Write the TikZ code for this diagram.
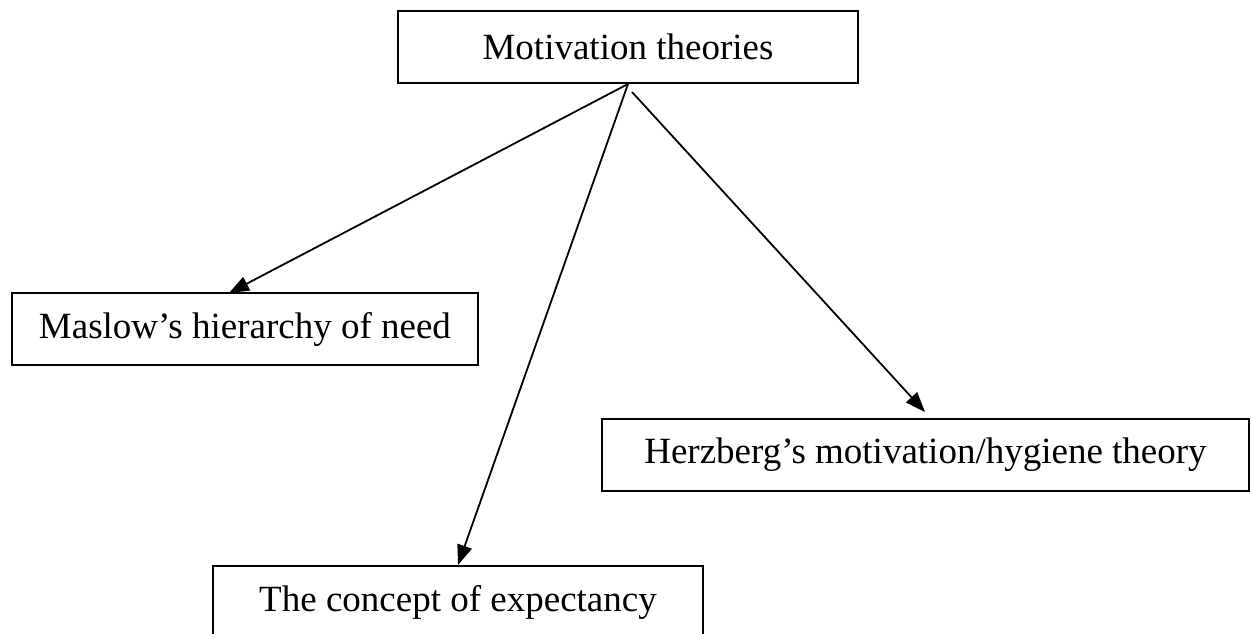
\documentclass[tikz,border=0pt]{standalone}
\usepackage{fontspec}
\setmainfont{Liberation Serif}
\usetikzlibrary{arrows.meta}
\begin{document}
\begin{tikzpicture}[x=1pt,y=-1pt,
  theory/.style={draw=black, line width=2pt, fill=white, inner sep=0pt,
    minimum height=72pt, font=\fontsize{37}{44}\selectfont},
  link/.style={line width=1.8pt, -{Triangle[length=20pt,width=15pt]}}]
  \useasboundingbox (0,0) rectangle (1251,634);
  % the four boxes
  \node[theory, minimum width=460pt] (top) at (628,47) {Motivation theories};
  \node[theory, minimum width=466pt] (maslow) at (245,329) {Maslow’s hierarchy of need};
  \node[theory, minimum width=647pt] (herz) at (925.5,455) {Herzberg’s motivation/hygiene theory};
  \node[theory, minimum width=490pt] (expect) at (458,602) {The concept of expectancy};
  % arrow start and end points
  \coordinate (top-r) at (632,92);
  \coordinate (maslow-in) at (229,293);
  \coordinate (herz-in) at (925,412);
  % connectors
  \draw[link] (top.south) -- (maslow-in);
  \draw[link] (top.south) -- (expect.north);
  \draw[link] (top-r) -- (herz-in);
\end{tikzpicture}
\end{document}
